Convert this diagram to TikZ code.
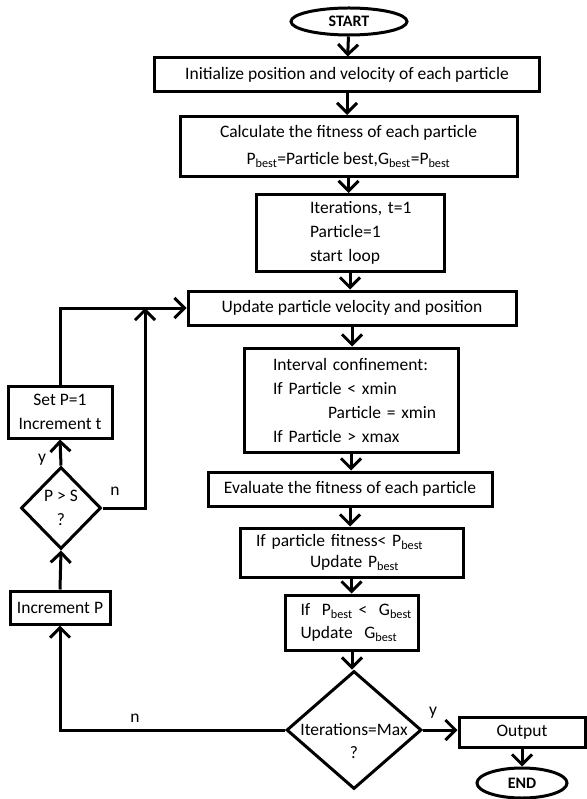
\documentclass[tikz,border=0pt]{standalone}
\usepackage{fontspec}
\setmainfont{Carlito}
\usetikzlibrary{shapes.geometric,arrows.meta}
\tikzset{
  blk/.style={draw, line width=3pt, inner sep=0pt, align=center},
  lblk/.style={draw, line width=3pt, inner xsep=0pt, inner ysep=0pt, align=left},
  term/.style={draw, ellipse, line width=3pt, inner sep=0pt, font=\fontsize{16}{18}\selectfont\bfseries},
  dec/.style={draw, diamond, line width=3pt, inner sep=0pt},
  flow/.style={line width=3pt, -{Straight Barb[length=10pt,width=20pt,line width=3pt]}},
  lab/.style={inner sep=0pt}
}
\begin{document}
\begin{tikzpicture}[x=1pt,y=-1pt,font=\fontsize{17.5}{24}\selectfont]
  \useasboundingbox (0,0) rectangle (586,799);
  % main column
  \node[term, minimum width=116pt, minimum height=27pt] (start) at (349,21.5) {START};
  \node[blk, minimum width=385pt, minimum height=34pt] (init) at (347,75) {Initialize position and velocity of each particle};
  \node[blk, minimum width=337pt, minimum height=60pt, font=\fontsize{17.5}{27}\selectfont] (calc) at (348.5,146.5)
    {Calculate the fitness of each particle\\P\textsubscript{best}=Particle best,G\textsubscript{best}=P\textsubscript{best}};
  \node[lblk, text width=188pt, minimum height=77pt] (iter) at (350,233)
    {\hspace*{54pt}Iterations, t=1\\\hspace*{54pt}Particle=1\\\hspace*{54pt}start loop};
  \node[blk, minimum width=328pt, minimum height=34pt] (update) at (352,308) {Update particle velocity and position};
  \node[lblk, text width=214pt, minimum height=104pt] (conf) at (351,400)
    {\hspace*{29pt}Interval confinement:\\\hspace*{29pt}If Particle < xmin\\\hspace*{84pt}Particle = xmin\\\hspace*{29pt}If Particle > xmax};
  \node[blk, minimum width=284pt, minimum height=34pt] (eval) at (350,489) {Evaluate the fitness of each particle};
  \node[lblk, text width=223pt, minimum height=49pt, font=\fontsize{17.5}{21}\selectfont] (ifpf) at (351.5,552.5)
    {\hspace*{16pt}If particle fitness< P\textsubscript{best}\\\hspace*{70pt}Update P\textsubscript{best}};
  \node[lblk, text width=133pt, minimum height=55pt, font=\fontsize{17.5}{23}\selectfont] (ifpb) at (352,622.5)
    {\hspace*{15pt}If\ \ P\textsubscript{best} <\ \ G\textsubscript{best}\\\hspace*{15pt}Update\ \ G\textsubscript{best}};
  \node[dec, minimum width=135pt, minimum height=118pt,
    label={[align=center, yshift=-11pt, font=\fontsize{17.5}{23}\selectfont]center:Iterations=Max\\?}] (itmax) at (354,730) {};
  \node[blk, minimum width=126pt, minimum height=30pt] (out) at (522,732) {Output};
  \node[term, minimum width=90pt, minimum height=30pt] (fin) at (522,783) {END};
  % side loop
  \node[blk, minimum width=104pt, minimum height=52pt] (setp) at (60,412) {Set P=1\\Increment t};
  \node[dec, minimum width=80pt, minimum height=82pt,
    label={[align=center, font=\fontsize{17.5}{24}\selectfont]center:P > S\\?}] (pgs) at (61,508) {};
  \node[blk, minimum width=100pt, minimum height=33pt] (incp) at (60,607.5) {Increment P};
  \coordinate (jn) at (145,308);

  \draw[flow] (start) -- (init);
  \draw[flow] (init.south) -- (init.south |- calc.north);
  \draw[flow] (calc.south) -- (calc.south |- iter.north);
  \draw[flow] (iter.south) -- (iter.south |- update.north);
  \draw[flow] (update.south) -- (update.south |- conf.north);
  \draw[flow] (conf.south) -- (conf.south |- eval.north);
  \draw[flow] (eval.south) -- (eval.south |- ifpf.north);
  \draw[flow] (ifpf.south) -- (ifpf.south |- ifpb.north);
  \draw[flow] (ifpb.south) -- (ifpb.south |- itmax.north);
  \draw[flow] (itmax.east) -- (itmax.east -| out.west);
  \draw[flow] (out.south) -- (fin.north);

  \draw[flow] (itmax.west) -| (incp.south);
  \draw[flow] (incp.north) -- (pgs.south);
  \draw[flow] (pgs.north) -- (setp.south);
  \draw[flow] (setp.north) |- (update.west);
  \draw[flow] (pgs.east) -| (jn);

  \node[lab] (ln1) at (135,718) {n};
  \node[lab] (ly1) at (433,713) {y};
  \node[lab] (ln2) at (115,491) {n};
  \node[lab] (ly2) at (42,460) {y};
\end{tikzpicture}
\end{document}
